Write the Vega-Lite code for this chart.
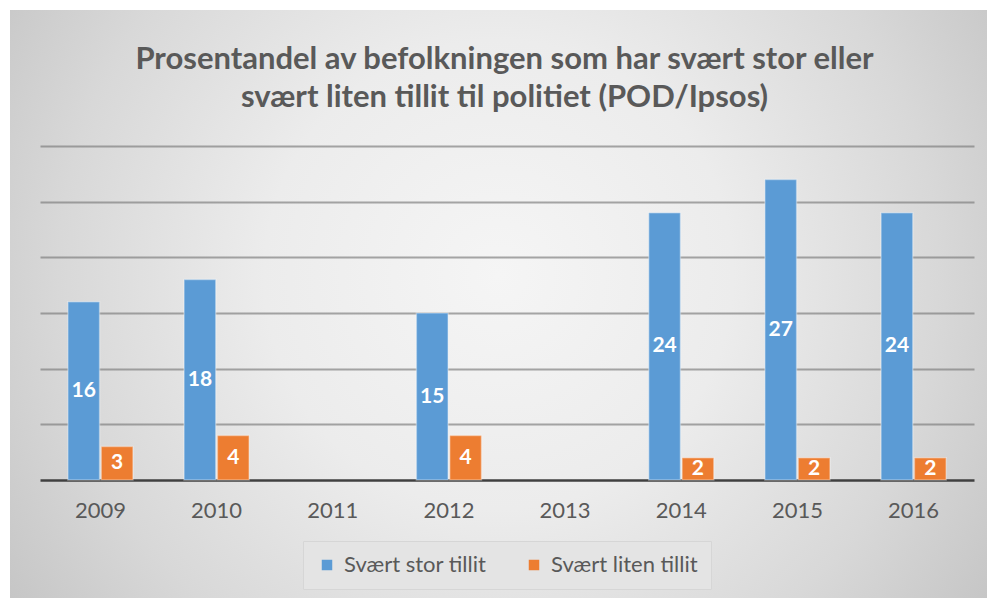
{
  "$schema": "https://vega.github.io/schema/vega-lite/v6.json",
  "width": 977,
  "height": 588,
  "autosize": {"type": "none"},
  "padding": {"left": 10, "top": 10, "right": 0, "bottom": 0},
  "background": "white",
  "title": {
    "text": ["Prosentandel av befolkningen som har svært stor eller", "svært liten tillit til politiet (POD/Ipsos)"],
    "font": "Lato",
    "fontSize": 31,
    "fontWeight": "bold",
    "color": "#595959",
    "anchor": "middle",
    "frame": "group",
    "offset": -104,
    "lineHeight": 38,
    "dx": 6
  },
  "config": {
    "view": {
      "stroke": null,
      "fill": {
        "gradient": "radial",
        "x1": 0.5, "y1": 0.47, "r1": 0,
        "x2": 0.5, "y2": 0.47, "r2": 0.6,
        "stops": [
          {"offset": 0, "color": "#f5f5f5"},
          {"offset": 0.4, "color": "#ececec"},
          {"offset": 0.75, "color": "#d8d8d8"},
          {"offset": 1, "color": "#c6c6c6"}
        ]
      }
    }
  },
  "data": {
    "values": [
      {"year": "2009", "series": "Svært stor tillit", "value": 16},
      {"year": "2009", "series": "Svært liten tillit", "value": 3},
      {"year": "2010", "series": "Svært stor tillit", "value": 18},
      {"year": "2010", "series": "Svært liten tillit", "value": 4},
      {"year": "2012", "series": "Svært stor tillit", "value": 15},
      {"year": "2012", "series": "Svært liten tillit", "value": 4},
      {"year": "2014", "series": "Svært stor tillit", "value": 24},
      {"year": "2014", "series": "Svært liten tillit", "value": 2},
      {"year": "2015", "series": "Svært stor tillit", "value": 27},
      {"year": "2015", "series": "Svært liten tillit", "value": 2},
      {"year": "2016", "series": "Svært stor tillit", "value": 24},
      {"year": "2016", "series": "Svært liten tillit", "value": 2}
    ]
  },
  "encoding": {
    "x": {
      "field": "year",
      "type": "nominal",
      "scale": {
        "domain": ["2009", "2010", "2011", "2012", "2013", "2014", "2015", "2016"],
        "range": [30, 964],
        "paddingInner": 0.44,
        "paddingOuter": 0.24
      },
      "axis": {
        "title": null,
        "orient": "bottom",
        "offset": -118,
        "domainColor": "#404040",
        "domainWidth": 2.5,
        "ticks": false,
        "tickSize": 0,
        "grid": false,
        "labelAngle": 0,
        "labelFont": "Lato",
        "labelFontSize": 22,
        "labelColor": "#595959",
        "labelPadding": 30,
        "labelBaseline": "middle"
      }
    },
    "xOffset": {
      "field": "series",
      "type": "nominal",
      "scale": {"domain": ["Svært stor tillit", "Svært liten tillit"], "paddingInner": 0.05}
    }
  },
  "layer": [
    {
      "mark": {"type": "bar", "stroke": "#ffffff", "strokeOpacity": 0.35, "strokeWidth": 1.5},
      "encoding": {
        "y": {
          "field": "value",
          "type": "quantitative",
          "scale": {"domain": [0, 30], "range": [470, 136], "zero": true, "nice": false},
          "axis": {
            "title": null,
            "values": [5, 10, 15, 20, 25, 30],
            "domain": false,
            "labels": false,
            "ticks": false,
            "grid": true,
            "gridColor": "#7a7a7a",
            "gridOpacity": 0.65,
            "gridWidth": 2
          }
        },
        "color": {
          "field": "series",
          "type": "nominal",
          "scale": {"domain": ["Svært stor tillit", "Svært liten tillit"], "range": ["#5b9bd5", "#ed7d31"]},
          "legend": {
            "title": null,
            "orient": "none",
            "legendX": 293,
            "legendY": 531,
            "direction": "horizontal",
            "symbolType": "square",
            "symbolSize": 110,
            "symbolStrokeWidth": 0,
            "labelFont": "Lato",
            "labelFontSize": 22,
            "labelColor": "#595959",
            "labelLimit": 300,
            "labelOffset": 6,
            "columnPadding": 36,
            "fillColor": "#e4e4e4",
            "strokeColor": "#d6d6d6",
            "padding": 13
          }
        }
      }
    },
    {
      "transform": [{"calculate": "datum.value / 2", "as": "mid"}],
      "mark": {"type": "text", "color": "white", "font": "Lato", "fontWeight": "bold", "fontSize": 21, "baseline": "middle"},
      "encoding": {
        "y": {
          "field": "mid",
          "type": "quantitative",
          "axis": {
            "title": null,
            "values": [5, 10, 15, 20, 25, 30],
            "domain": false,
            "labels": false,
            "ticks": false,
            "grid": true,
            "gridColor": "#7a7a7a",
            "gridOpacity": 0.65,
            "gridWidth": 2
          }
        },
        "text": {"field": "value", "type": "quantitative"}
      }
    }
  ]
}
